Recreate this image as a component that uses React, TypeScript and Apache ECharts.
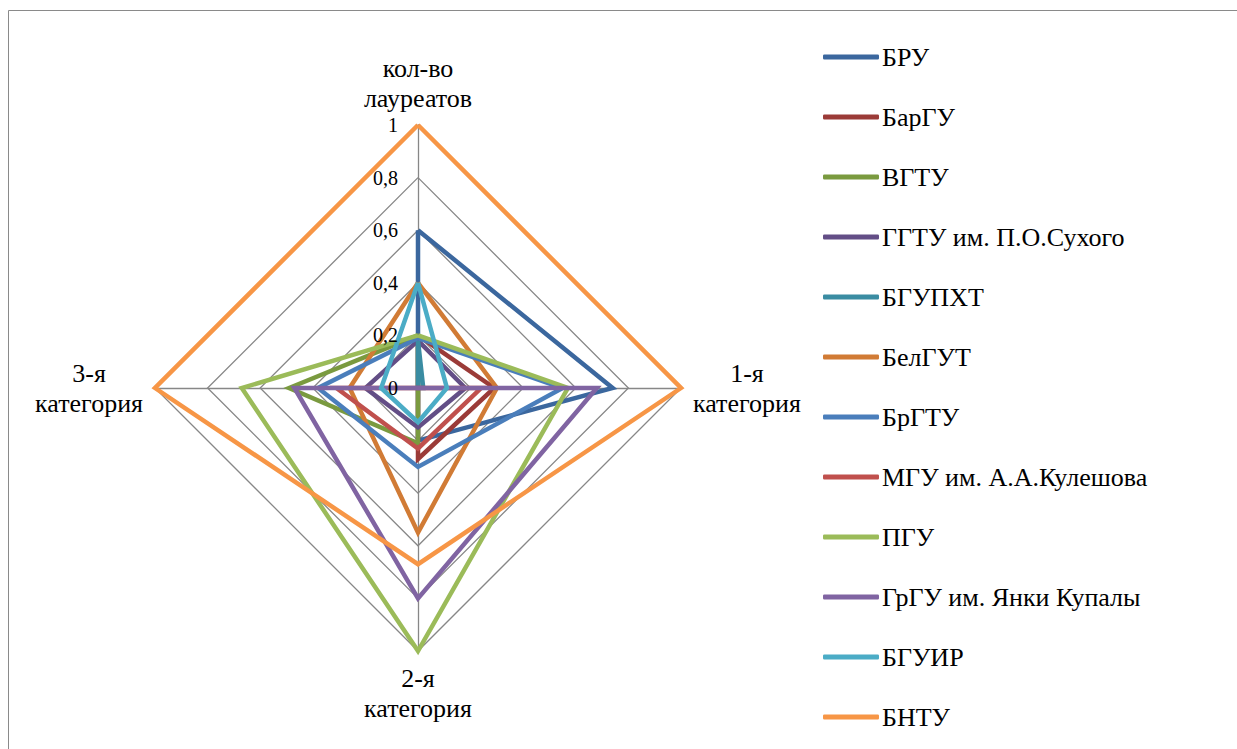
import React, { useEffect, useRef } from "react";
import * as echarts from "echarts";

// Indicators, in the order of the source table
const categories = ["кол-во лауреатов", "1-я категория", "2-я категория", "3-я категория"];

const seriesNames = [
  "БРУ",
  "БарГУ",
  "ВГТУ",
  "ГГТУ им. П.О.Сухого",
  "БГУПХТ",
  "БелГУТ",
  "БрГТУ",
  "МГУ им. А.А.Кулешова",
  "ПГУ",
  "ГрГУ им. Янки Купалы",
  "БГУИР",
  "БНТУ",
];

const seriesColors = [
  "#3B679E",
  "#9B3B38",
  "#7A9A3F",
  "#634E86",
  "#3A8CA2",
  "#D17B35",
  "#4A7EBB",
  "#C0504D",
  "#9BBB59",
  "#8064A2",
  "#4BACC6",
  "#F79646",
];

// values: [кол-во лауреатов, 1-я, 2-я, 3-я категория]
const vBRU = [0.6, 0.74, 0.2, 0];
const vBarGU = [0.2, 0.29, 0.27, 0];
const vVGTU = [0.2, 0, 0.21, 0.49];
const vGGTU = [0.18, 0.18, 0.15, 0.2];
const vBGUPHT = [0.18, 0.02, 0, 0];
const vBelGUT = [0.4, 0.3, 0.55, 0.26];
const vBrGTU = [0.19, 0.55, 0.3, 0.38];
const vMGU = [0, 0.24, 0.23, 0.31];
const vPGU = [0.2, 0.57, 1.0, 0.67];
const vGrGU = [0, 0.68, 0.8, 0.47];
const vBGUIR = [0.4, 0.11, 0.13, 0.14];
const vBNTU = [1, 1, 0.67, 1];

const allValues = [vBRU, vBarGU, vVGTU, vGGTU, vBGUPHT, vBelGUT, vBrGTU, vMGU, vPGU, vGrGU, vBGUIR, vBNTU];

const tickValues = [0, 0.2, 0.4, 0.6, 0.8, 1];

// ECharts places indicators counter-clockwise from the top: top, left, bottom, right
const order = [0, 3, 2, 1];

const FONT = "Times New Roman, Liberation Serif, DejaVu Serif, Noto Serif, serif";

export default function App() {
  const ref = useRef<HTMLDivElement>(null);
  useEffect(() => {
    if (!ref.current) return;
    const chart = echarts.init(ref.current, null, { renderer: "svg" });
    const option = {
      animation: false,
      backgroundColor: "#ffffff",
      textStyle: { fontFamily: FONT },
      graphic: [
        {
          type: "rect",
          shape: { x: 8.5, y: 10.5, width: 1300, height: 800 },
          style: { fill: "none", stroke: "#8a8a8a", lineWidth: 1 },
          silent: true,
        },
      ],
      legend: {
        orient: "vertical",
        left: 818,
        top: 37,
        itemWidth: 56,
        itemHeight: 5,
        itemGap: 30,
        icon: "roundRect",
        textStyle: { fontFamily: FONT, fontSize: 26, color: "#000", lineHeight: 30, padding: [0, 0, 0, -2] },
        data: seriesNames,
      },
      polar: { center: [418, 388], radius: 263 },
      angleAxis: { type: "value", min: 0, max: 360, startAngle: 90, show: false },
      radiusAxis: {
        type: "value",
        min: 0,
        max: 1,
        interval: 0.2,
        axisLine: { show: false },
        axisTick: { show: false },
        splitLine: { show: false },
        axisLabel: {
          show: true,
          fontFamily: FONT,
          fontSize: 20,
          color: "#000",
          margin: 20,
          formatter: (v: number) => (tickValues.includes(Math.round(v * 10) / 10) ? String(Math.round(v * 10) / 10).replace(".", ",") : ""),
        },
        z: 20,
      },
      radar: {
        center: [418, 388],
        radius: 263,
        startAngle: 90,
        shape: "polygon",
        splitNumber: 5,
        nameGap: 12,
        axisName: {
          color: "#000",
          fontFamily: FONT,
          fontSize: 26,
          formatter: (name: string) =>
            name
              .split(" ")
              .map((s) => `{n|${s}}`)
              .join("\n"),
          rich: { n: { fontFamily: FONT, fontSize: 26, lineHeight: 30, align: "center", color: "#000" } },
        },
        splitLine: { lineStyle: { color: "#878787", width: 1.3 } },
        splitArea: { show: false },
        axisLine: { lineStyle: { color: "#878787", width: 1.3 } },
        axisTick: { show: false },
        axisLabel: { show: false },
        indicator: order.map((i) => ({ name: categories[i], min: 0, max: 1 })),
      },
      series: seriesNames.map((name, k) => ({
        type: "radar",
        name,
        symbol: "none",
        z: 2 + k * 0.01,
        color: seriesColors[k],
        lineStyle: { color: seriesColors[k], width: 4.5, join: "miter", miterLimit: 20 },
        itemStyle: { color: seriesColors[k] },
        data: [{ name, value: order.map((i) => allValues[k][i]) }],
      })),
    };
    chart.setOption(option as any);
    return () => chart.dispose();
  }, []);
  return (
    <div
      ref={ref}
      style={{ position: "fixed", left: 0, top: 0, width: 1237, height: 749 }}
    />
  );
}
